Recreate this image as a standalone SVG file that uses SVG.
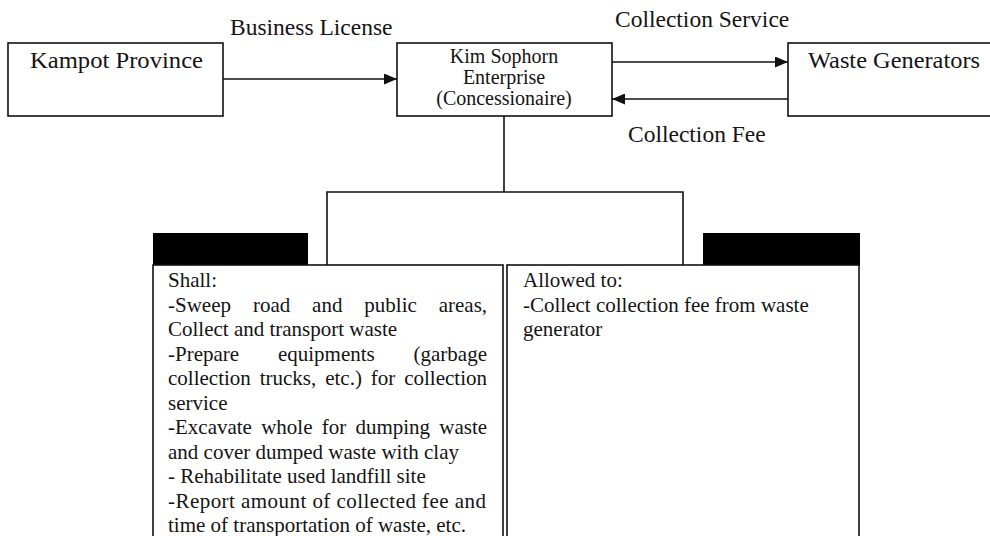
<svg xmlns="http://www.w3.org/2000/svg" width="990" height="536" viewBox="0 0 990 536">
<defs>
<marker id="arr" markerUnits="userSpaceOnUse" markerWidth="13" markerHeight="11" refX="13" refY="5.5" orient="auto"><path d="M0,0 L13,5.5 L0,11 z" fill="#111"/></marker>
</defs>
<style>
.box{fill:#fff;stroke:#111;stroke-width:1.6}
.big{font-size:24px}
.lab{font-size:23.5px}
.body{font-size:21px}
.kim{font-size:20px}
.c{stroke:#111;stroke-width:1.6;fill:none}
.tab{fill:#000}
</style>
<rect width="990" height="536" fill="#fff"/>
<g font-family="Liberation Serif, Tinos, Times New Roman, DejaVu Serif, Noto Serif, serif" fill="#141414">
<g id="connectors">
<line class="c" x1="223" y1="79" x2="397" y2="79" marker-end="url(#arr)"/>
<line class="c" x1="612" y1="62" x2="788" y2="62" marker-end="url(#arr)"/>
<line class="c" x1="788" y1="99" x2="612" y2="99" marker-end="url(#arr)"/>
<path class="c" d="M504,116 V192"/>
<path class="c" d="M327,265 V192 H683 V265"/>
<text class="lab" x="230" y="35">Business License</text>
<text class="lab" x="615" y="27">Collection Service</text>
<text class="lab" x="628" y="142">Collection Fee</text>
</g>
<g id="kampot">
<rect class="box" x="8" y="43" width="215" height="73"/>
<text class="big" x="30" y="68" textLength="173" lengthAdjust="spacingAndGlyphs">Kampot Province</text>
</g>
<g id="kim">
<rect class="box" x="397" y="43" width="215" height="73"/>
<text class="kim" x="504" y="63" text-anchor="middle">Kim Sophorn</text>
<text class="kim" x="504" y="84" text-anchor="middle">Enterprise</text>
<text class="kim" x="504" y="105" text-anchor="middle">(Concessionaire)</text>
</g>
<g id="waste">
<rect class="box" x="788" y="43" width="210" height="73"/>
<text class="big" x="808" y="68" textLength="172" lengthAdjust="spacingAndGlyphs">Waste Generators</text>
</g>
<g id="shall">
<rect class="tab" x="153" y="233" width="155" height="33"/>
<rect class="box" x="153" y="265" width="350" height="290"/>
<text class="body" x="168" y="287">Shall:</text>
<text class="body" y="311.5"><tspan x="168">-Sweep</tspan><tspan x="252.9">road</tspan><tspan x="312.1">and</tspan><tspan x="364.3">public</tspan><tspan x="438.7">areas,</tspan></text>
<text class="body" x="168" y="336">Collect and transport waste</text>
<text class="body" y="360.5"><tspan x="168">-Prepare</tspan><tspan x="277.9">equipments</tspan><tspan x="413.5">(garbage</tspan></text>
<text class="body" y="385"><tspan x="168">collection</tspan><tspan x="259.7">trucks,</tspan><tspan x="325.2">etc.)</tspan><tspan x="370.8">for</tspan><tspan x="404.2">collection</tspan></text>
<text class="body" x="168" y="409.5">service</text>
<text class="body" y="434"><tspan x="168">-Excavate</tspan><tspan x="261.2">whole</tspan><tspan x="321.7">for</tspan><tspan x="355.4">dumping</tspan><tspan x="439.3">waste</tspan></text>
<text class="body" x="168" y="458.5">and cover dumped waste with clay</text>
<text class="body" x="168" y="483">- Rehabilitate used landfill site</text>
<text class="body" x="168" y="507.5" textLength="318" lengthAdjust="spacing">-Report amount of collected fee and</text>
<text class="body" x="168" y="532">time of transportation of waste, etc.</text>
</g>
<g id="allowed">
<rect class="tab" x="703" y="233" width="157" height="33"/>
<rect class="box" x="507" y="265" width="352" height="290"/>
<text class="body" x="523" y="287">Allowed to:</text>
<text class="body" x="523" y="311.5">-Collect collection fee from waste</text>
<text class="body" x="523" y="336">generator</text>
</g>
</g>
</svg>
